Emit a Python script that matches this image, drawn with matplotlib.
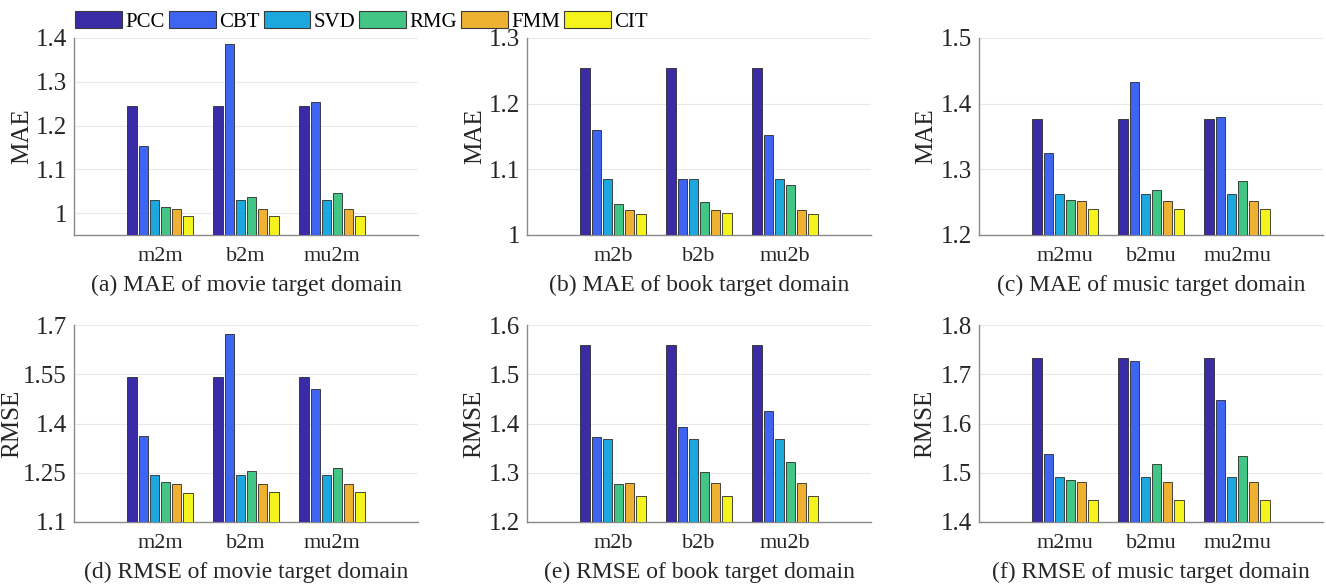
import numpy as np
import matplotlib
matplotlib.use("Agg")
import matplotlib.pyplot as plt
from matplotlib.patches import Patch

plt.rcParams['font.family'] = ['Liberation Serif', 'DejaVu Serif']

methods = ['PCC', 'CBT', 'SVD', 'RMG', 'FMM', 'CIT']
colors = ['#3a2ba6', '#3e64f2', '#1ca7de', '#42c585', '#efb131', '#f5f31c']

cats_movie = ['m2m', 'b2m', 'mu2m']
cats_book = ['m2b', 'b2b', 'mu2b']
cats_music = ['m2mu', 'b2mu', 'mu2mu']

# rows: scenario, cols: PCC CBT SVD RMG FMM CIT
mae_movie = [[1.244, 1.154, 1.030, 1.014, 1.010, 0.994],
             [1.244, 1.387, 1.030, 1.037, 1.010, 0.994],
             [1.244, 1.254, 1.030, 1.047, 1.010, 0.994]]
mae_book = [[1.254, 1.160, 1.086, 1.047, 1.038, 1.032],
            [1.254, 1.085, 1.086, 1.051, 1.038, 1.033],
            [1.254, 1.152, 1.086, 1.076, 1.038, 1.032]]
mae_music = [[1.376, 1.325, 1.262, 1.253, 1.2515, 1.240],
             [1.376, 1.433, 1.262, 1.269, 1.2515, 1.240],
             [1.376, 1.379, 1.262, 1.282, 1.2515, 1.240]]
rmse_movie = [[1.543, 1.362, 1.243, 1.221, 1.215, 1.188],
              [1.543, 1.672, 1.243, 1.255, 1.215, 1.190],
              [1.543, 1.506, 1.243, 1.265, 1.215, 1.190]]
rmse_book = [[1.5585, 1.3735, 1.368, 1.278, 1.279, 1.253],
             [1.5585, 1.393, 1.368, 1.301, 1.279, 1.253],
             [1.5585, 1.425, 1.368, 1.322, 1.279, 1.253]]
rmse_music = [[1.733, 1.539, 1.492, 1.486, 1.481, 1.445],
              [1.733, 1.726, 1.492, 1.517, 1.481, 1.445],
              [1.733, 1.648, 1.492, 1.533, 1.481, 1.445]]

panels = [
    (mae_movie, cats_movie, 'MAE', (0.95, 1.4), [1, 1.1, 1.2, 1.3, 1.4], ['1', '1.1', '1.2', '1.3', '1.4'], '(a) MAE of movie target domain'),
    (mae_book, cats_book, 'MAE', (1.0, 1.3), [1, 1.1, 1.2, 1.3], ['1', '1.1', '1.2', '1.3'], '(b) MAE of book target domain'),
    (mae_music, cats_music, 'MAE', (1.2, 1.5), [1.2, 1.3, 1.4, 1.5], ['1.2', '1.3', '1.4', '1.5'], '(c) MAE of music target domain'),
    (rmse_movie, cats_movie, 'RMSE', (1.1, 1.7), [1.1, 1.25, 1.4, 1.55, 1.7], ['1.1', '1.25', '1.4', '1.55', '1.7'], '(d) RMSE of movie target domain'),
    (rmse_book, cats_book, 'RMSE', (1.2, 1.6), [1.2, 1.3, 1.4, 1.5, 1.6], ['1.2', '1.3', '1.4', '1.5', '1.6'], '(e) RMSE of book target domain'),
    (rmse_music, cats_music, 'RMSE', (1.4, 1.8), [1.4, 1.5, 1.6, 1.7, 1.8], ['1.4', '1.5', '1.6', '1.7', '1.8'], '(f) RMSE of music target domain'),
]

W, H = 1326, 588
fig = plt.figure(figsize=(W / 100, H / 100), dpi=100)

lefts = [74, 527, 979]
tops = [38, 325]
aw, ah = 344, 197
# y-label centre offset from the left spine, in pixels
ylab_off = [-52, -52, -53, -62, -53, -54]

bw = 0.108
step = 0.13
for k, (data, cats, ylab, ylim, yt, ytl, title) in enumerate(panels):
    r, c = divmod(k, 3)
    ax = fig.add_axes([lefts[c] / W, 1 - (tops[r] + ah) / H, aw / W, ah / H])
    data = np.array(data)
    x = np.arange(1, 4)
    for j in range(len(methods)):
        ax.bar(x + (j - 2.5) * step, data[:, j], width=bw, bottom=0,
               color=colors[j], edgecolor='#2b2b2b', linewidth=0.6, zorder=3)
    ax.set_xlim(0, 4)
    ax.set_ylim(*ylim)
    ax.set_yticks(yt)
    ax.set_yticklabels(ytl)
    ax.set_xticks(x)
    ax.set_xticklabels(cats)
    ax.tick_params(length=0, colors='#262626')
    ax.tick_params(axis='y', labelsize=18, pad=5)
    ax.tick_params(axis='x', labelsize=16, pad=9)
    ax.grid(axis='y', color='#e8e8e8', linewidth=0.8, zorder=0)
    for s in ['top', 'right']:
        ax.spines[s].set_visible(False)
    for s in ['left', 'bottom']:
        ax.spines[s].set_color('#8a8a8a')
        ax.spines[s].set_linewidth(1.0)
    ax.set_ylabel(ylab, fontsize=18, color='#262626', va='center')
    ax.yaxis.set_label_coords(ylab_off[k] / aw, 0.5)
    ax.set_xlabel(title, fontsize=17, color='#262626', labelpad=6)

handles = [Patch(facecolor=colors[j], edgecolor='#3a3a3a', linewidth=0.8) for j in range(6)]
fig.legend(handles, methods, loc='upper left', bbox_to_anchor=(67 / W, 1 - 3 / H), ncol=6,
           frameon=False, fontsize=15, handlelength=2.25, handleheight=0.85,
           handletextpad=0.15, columnspacing=0.2, borderaxespad=0)

fig.savefig('out.png', dpi=100)
